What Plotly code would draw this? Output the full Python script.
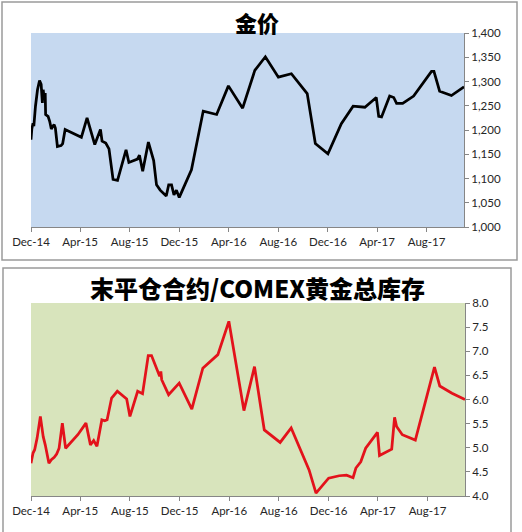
import plotly.graph_objects as go

# ---- data ----
gold_dates = [
    "2014-12-01", "2014-12-03", "2014-12-06", "2014-12-08", "2014-12-12", "2014-12-17",
    "2014-12-22", "2014-12-26", "2014-12-29", "2014-12-31", "2015-01-02", "2015-01-05",
    "2015-01-06", "2015-01-12", "2015-01-16", "2015-01-20", "2015-01-24", "2015-01-27",
    "2015-01-30", "2015-02-04", "2015-02-13", "2015-02-17", "2015-02-23", "2015-04-04",
    "2015-04-18", "2015-05-07", "2015-05-21", "2015-05-25", "2015-06-03", "2015-06-11",
    "2015-06-21", "2015-07-02", "2015-07-23", "2015-07-30", "2015-08-20", "2015-08-25",
    "2015-09-02", "2015-09-16", "2015-09-29", "2015-10-06", "2015-10-15", "2015-10-30",
    "2015-11-05", "2015-11-12", "2015-11-18", "2015-11-24", "2015-12-01", "2015-12-31",
    "2016-01-29", "2016-03-02", "2016-03-31", "2016-05-05", "2016-06-04", "2016-06-30",
    "2016-08-01", "2016-09-02", "2016-10-11", "2016-10-31", "2016-12-01", "2017-01-03",
    "2017-02-01", "2017-03-02", "2017-03-30", "2017-04-05", "2017-04-12", "2017-05-02",
    "2017-05-12", "2017-05-19", "2017-06-03", "2017-06-30", "2017-08-13", "2017-08-19",
    "2017-09-02", "2017-10-01", "2017-11-01",
]
gold_price = [
    1180, 1202, 1214, 1208, 1249, 1283,
    1302, 1294, 1256, 1283, 1269, 1276,
    1232, 1228, 1218, 1202, 1208, 1211,
    1204, 1166, 1168, 1172, 1201, 1185,
    1225, 1170, 1201, 1177, 1173, 1161,
    1098, 1096, 1159, 1133, 1140, 1148,
    1115, 1175, 1137, 1087, 1076, 1064,
    1087, 1087, 1066, 1076, 1061, 1118,
    1239, 1232, 1291, 1245, 1323, 1351,
    1309, 1316, 1275, 1172, 1151, 1213,
    1249, 1247, 1267, 1228, 1227, 1270,
    1267, 1255, 1255, 1270, 1321, 1321,
    1280, 1271, 1289,
]

ratio_dates = [
    "2014-12-01", "2014-12-06", "2014-12-10", "2014-12-16", "2014-12-24", "2014-12-31",
    "2015-01-05", "2015-01-14", "2015-01-20", "2015-01-27", "2015-02-02", "2015-02-08",
    "2015-02-16", "2015-02-24", "2015-03-26", "2015-04-15", "2015-04-26", "2015-05-04",
    "2015-05-12", "2015-05-24", "2015-05-31", "2015-06-06", "2015-06-17", "2015-07-01",
    "2015-07-24", "2015-08-01", "2015-08-20", "2015-09-01", "2015-09-15", "2015-09-23",
    "2015-10-13", "2015-10-16", "2015-10-18", "2015-11-04", "2015-11-30", "2015-12-31",
    "2016-01-27", "2016-03-04", "2016-03-31", "2016-05-07", "2016-06-02", "2016-06-26",
    "2016-08-04", "2016-08-31", "2016-10-14", "2016-10-31", "2016-12-01", "2016-12-27",
    "2017-01-14", "2017-01-30", "2017-02-06", "2017-02-18", "2017-03-02", "2017-03-31",
    "2017-04-05", "2017-05-05", "2017-05-12", "2017-05-17", "2017-05-31", "2017-07-02",
    "2017-08-18", "2017-08-31", "2017-09-30", "2017-11-01",
]
ratio_values = [
    4.68, 4.89, 4.96, 5.20, 5.65, 5.23,
    5.06, 4.68, 4.75, 4.80, 4.87, 4.99,
    5.51, 4.99, 5.27, 5.51, 5.06, 5.15,
    5.03, 5.58, 5.56, 5.58, 6.03, 6.17,
    6.01, 5.65, 6.17, 6.12, 6.91, 6.91,
    6.48, 6.58, 6.41, 6.10, 6.34, 5.80,
    6.65, 6.93, 7.62, 5.77, 6.68, 5.37,
    5.11, 5.41, 4.54, 4.06, 4.37, 4.42,
    4.43, 4.38, 4.58, 4.71, 4.99, 5.32,
    4.84, 4.97, 5.63, 5.44, 5.27, 5.16,
    6.67, 6.28, 6.13, 6.00,
]

x_tick_vals = ["2014-12-01", "2015-04-01", "2015-08-01", "2015-12-01", "2016-04-01",
               "2016-08-01", "2016-12-01", "2017-04-01", "2017-08-01"]
x_tick_text = ["Dec-14", "Apr-15", "Aug-15", "Dec-15", "Apr-16",
               "Aug-16", "Dec-16", "Apr-17", "Aug-17"]
x_range = ["2014-12-01", "2017-11-01"]

title_top = "金价"
title_bottom = "末平仓合约/COMEX黄金总库存"

W, H = 522, 532

def px_x(p):
    return p / W

def px_y(p):
    return 1 - p / H

fig = go.Figure()
fig.add_trace(go.Scatter(x=gold_dates, y=gold_price, mode="lines",
                         line=dict(color="#000000", width=2.75),
                         xaxis="x", yaxis="y", showlegend=False))
fig.add_trace(go.Scatter(x=ratio_dates, y=ratio_values, mode="lines",
                         line=dict(color="#e3121b", width=2.75),
                         xaxis="x2", yaxis="y2", showlegend=False))

tick_font = dict(family="Lato, Open Sans, sans-serif", size=11.5, color="#262626")
axis_common = dict(showline=True, linecolor="#868686", linewidth=1,
                   ticks="outside", ticklen=4, tickcolor="#868686",
                   showgrid=False, zeroline=False, tickfont=tick_font,
                   automargin=False, fixedrange=True)

fig.update_layout(
    width=W, height=H,
    margin=dict(l=0, r=0, t=0, b=0, pad=0, autoexpand=False),
    paper_bgcolor="white",
    plot_bgcolor="rgba(0,0,0,0)",
    xaxis=dict(domain=[px_x(31), px_x(464)], anchor="y", type="date", range=x_range,
               tickvals=x_tick_vals, ticktext=x_tick_text, **axis_common),
    yaxis=dict(domain=[px_y(227), px_y(33)], anchor="x", side="right",
               range=[1000, 1400], dtick=50, tickformat=",d", **axis_common),
    xaxis2=dict(domain=[px_x(31), px_x(465)], anchor="y2", type="date", range=x_range,
                tickvals=x_tick_vals, ticktext=x_tick_text, **axis_common),
    yaxis2=dict(domain=[px_y(496), px_y(303)], anchor="x2", side="right",
                range=[4, 8], dtick=0.5, tickformat=".1f", **axis_common),
    shapes=[
        dict(type="rect", xref="x domain", yref="y domain", x0=0, x1=1, y0=0, y1=1,
             fillcolor="#c6d9f0", line=dict(width=0), layer="below"),
        dict(type="rect", xref="x2 domain", yref="y2 domain", x0=0, x1=1, y0=0, y1=1,
             fillcolor="#d8e4bc", line=dict(width=0), layer="below"),
        dict(type="rect", xref="paper", yref="paper",
             x0=px_x(2), x1=px_x(517), y0=px_y(260), y1=px_y(2),
             line=dict(color="#9a9a9a", width=1.5), fillcolor="rgba(0,0,0,0)"),
        dict(type="rect", xref="paper", yref="paper",
             x0=px_x(3), x1=px_x(511), y0=-0.05, y1=px_y(268),
             line=dict(color="#9a9a9a", width=1.5), fillcolor="rgba(0,0,0,0)"),
    ],
    annotations=[
        dict(text=title_top, xref="paper", yref="paper",
             x=px_x(257), y=px_y(22), xanchor="center", yanchor="middle", showarrow=False,
             font=dict(family="Noto Sans CJK SC", size=22, color="#000000", weight=900)),
        dict(text=title_bottom, xref="paper", yref="paper",
             x=px_x(257), y=px_y(287), xanchor="center", yanchor="middle", showarrow=False,
             font=dict(family="Noto Sans CJK SC", size=24, color="#000000", weight=900)),
    ],
)

fig.write_html(
    "out.html",
    config={"displayModeBar": False},
    post_script="document.body.style.margin='0';document.body.style.overflow='hidden';",
)
